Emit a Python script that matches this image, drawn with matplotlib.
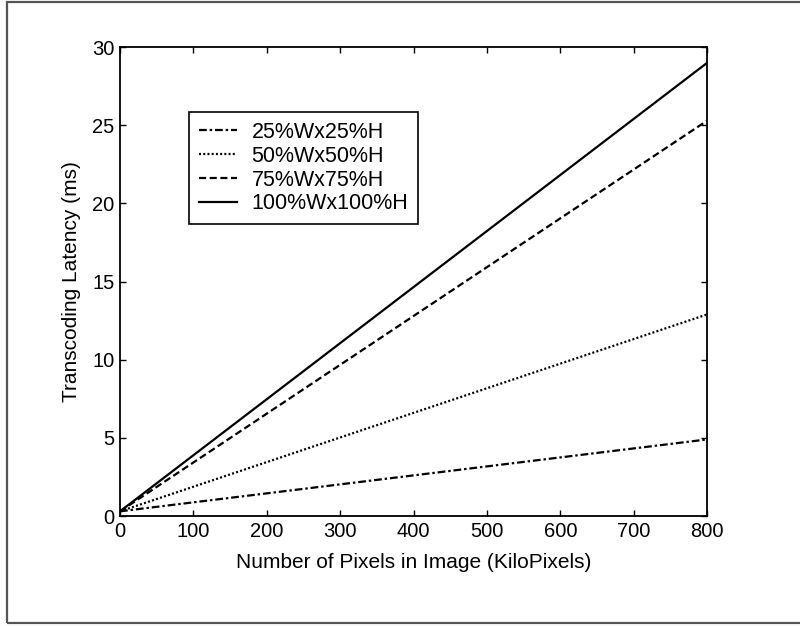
import matplotlib.pyplot as plt
from matplotlib.patches import Rectangle

plt.rcParams['font.family'] = ['Liberation Sans', 'DejaVu Sans']

# image size in kilopixels and measured latency (ms) per scaling setting
pixels = [0, 800]
lat_25 = [0.3, 4.9]
lat_50 = [0.3, 12.9]
lat_75 = [0.3, 25.3]
lat_100 = [0.3, 29.0]
labels = ['25%Wx25%H', '50%Wx50%H', '75%Wx75%H', '100%Wx100%H']

fig = plt.figure(figsize=(8, 6.26), dpi=100)
ax = fig.add_axes([0.15, 0.1757, 0.734, 0.749])

ax.plot(pixels, lat_25, color='black', lw=1.6, dashes=(3.5, 1.3, 1.1, 1.3), label=labels[0])
ax.plot(pixels, lat_50, color='black', lw=1.6, dashes=(0.9, 1.0), label=labels[1])
ax.plot(pixels, lat_75, color='black', lw=1.6, dashes=(3.2, 1.6), label=labels[2])
ax.plot(pixels, lat_100, color='black', lw=1.6, label=labels[3])

ax.set_xlim(0, 800)
ax.set_ylim(0, 30)
ax.set_xticks(range(0, 801, 100))
ax.set_yticks(range(0, 31, 5))
ax.tick_params(direction='in', top=True, right=True, length=4, width=1, labelsize=14.5, pad=4)
for s in ax.spines.values():
    s.set_linewidth(1.3)

ax.set_xlabel('Number of Pixels in Image (KiloPixels)', fontsize=15, labelpad=9)
ax.set_ylabel('Transcoding Latency (ms)', fontsize=15, labelpad=8)

leg = ax.legend(loc='upper left', bbox_to_anchor=(0.1175, 0.861), borderaxespad=0,
                fontsize=15.5, frameon=True, fancybox=False, edgecolor='black',
                framealpha=1, handlelength=1.8, handletextpad=0.65, labelspacing=0.13,
                borderpad=0.45)
leg.get_frame().set_linewidth(1.2)

# outer frame around the figure
fig.patches.append(Rectangle((7 / 800, 3 / 626), 1.0, 1 - 5 / 626, transform=fig.transFigure,
                             fill=False, edgecolor='#555555', lw=1.6))

fig.savefig('out.png', dpi=100, facecolor='white')
